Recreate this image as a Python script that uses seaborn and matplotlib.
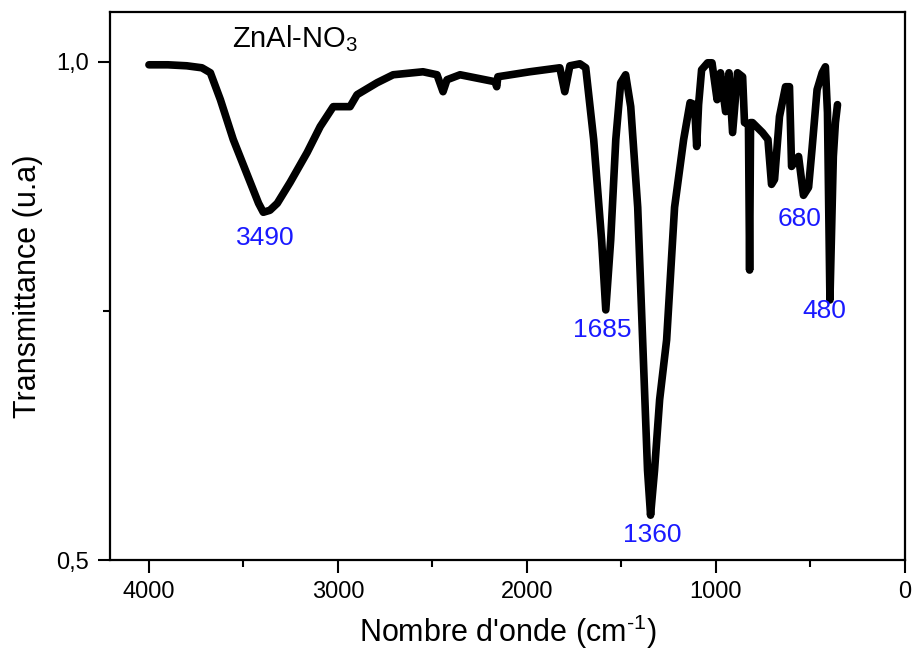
import matplotlib
matplotlib.use("Agg")
import matplotlib.pyplot as plt
from matplotlib.ticker import FixedLocator, FuncFormatter
import seaborn as sns
import pandas as pd

# ---- data ----
wavenumber = [4000, 3900, 3800, 3720, 3675, 3622, 3554, 3464, 3420, 3395, 3360, 3321, 3253, 3163,
              3094, 3025, 2936, 2899, 2793, 2708, 2550, 2476, 2444, 2423, 2354, 2169,
              2160, 2154, 1985, 1826, 1800, 1773, 1720, 1689, 1647, 1605, 1583, 1557,
              1530, 1504, 1478, 1451, 1414, 1388, 1362, 1346, 1325, 1298, 1261, 1219,
              1171, 1137, 1113, 1102, 1092, 1076, 1044, 1021, 994, 976, 949, 931, 912,
              886, 859, 849, 828, 822, 817, 807, 754, 725, 706, 690, 664, 632, 611, 600,
              563, 537, 510, 492, 465, 438, 421, 410, 397, 379, 368, 357]
transmittance = [0.997, 0.997, 0.996, 0.994, 0.989, 0.962, 0.922, 0.879, 0.858, 0.849, 0.851, 0.858,
                 0.879, 0.909, 0.935, 0.955, 0.955, 0.967, 0.979, 0.987, 0.990, 0.987,
                 0.970, 0.982, 0.987, 0.980, 0.975, 0.985, 0.990, 0.994, 0.970, 0.996,
                 0.998, 0.994, 0.922, 0.821, 0.751, 0.821, 0.922, 0.979, 0.987, 0.955,
                 0.854, 0.721, 0.590, 0.545, 0.590, 0.661, 0.721, 0.854, 0.922, 0.959,
                 0.957, 0.915, 0.957, 0.992, 0.999, 0.999, 0.962, 0.989, 0.950, 0.989,
                 0.929, 0.989, 0.985, 0.939, 0.937, 0.791, 0.939, 0.939, 0.929, 0.922,
                 0.877, 0.882, 0.945, 0.975, 0.975, 0.895, 0.905, 0.866, 0.874, 0.912,
                 0.972, 0.989, 0.995, 0.949, 0.761, 0.905, 0.939, 0.957]

peak_labels = ["3490", "1685", "1360", "680", "480"]
peak_label_x = [3385, 1600, 1335, 559, 427]
peak_label_y = [0.823, 0.731, 0.525, 0.842, 0.750]

title_text = r"ZnAl-NO$_3$"
x_ticks = [4000, 3000, 2000, 1000, 0]
y_ticks = [0.5, 1.0]

df = pd.DataFrame({"w": wavenumber, "t": transmittance})

sns.set_style("white")
plt.rcParams["font.family"] = ["Liberation Sans", "DejaVu Sans"]
plt.rcParams["mathtext.fontset"] = "custom"
plt.rcParams["mathtext.rm"] = "Liberation Sans"
plt.rcParams["mathtext.it"] = "Liberation Sans"
plt.rcParams["mathtext.default"] = "regular"
plt.rcParams["text.color"] = "black"
plt.rcParams["axes.labelcolor"] = "black"

fig = plt.figure(figsize=(9.13, 6.55), dpi=100)
ax = fig.add_axes([0.1205, 0.145, 0.8707, 0.8367])

sns.lineplot(data=df, x="w", y="t", sort=False, estimator=None, color="black",
             linewidth=5.5, ax=ax)

ax.set_xlim(4206, 0)
ax.set_ylim(0.5, 1.05)

ax.xaxis.set_major_locator(FixedLocator(x_ticks))
ax.xaxis.set_minor_locator(FixedLocator([3500, 2500, 1500, 500]))
ax.yaxis.set_major_locator(FixedLocator(y_ticks))
ax.yaxis.set_minor_locator(FixedLocator([0.75]))
ax.yaxis.set_major_formatter(FuncFormatter(lambda v, p: f"{v:.1f}".replace(".", ",")))

ax.tick_params(axis="both", which="major", direction="out", length=9, width=1.5,
               labelsize=17, pad=6, colors="black")
ax.tick_params(axis="both", which="minor", direction="out", length=5, width=1.5,
               colors="black")
ax.tick_params(which="both", bottom=True, left=True, top=False, right=False)

for s in ax.spines.values():
    s.set_linewidth(1.6)
    s.set_color("black")
    s.set_visible(True)

ax.set_xlabel(r"Nombre d'onde (cm$^{\text{-}1}$)", fontsize=22, labelpad=7)
ax.set_ylabel("Transmittance (u.a)", fontsize=22, labelpad=10)

ax.text(3560, 1.023, title_text, fontsize=21, ha="left", va="center", color="black")
for lab, lx, ly in zip(peak_labels, peak_label_x, peak_label_y):
    ax.text(lx, ly, lab, fontsize=19, ha="center", va="center", color="#1a1aff")

fig.savefig("out.png", dpi=100)
